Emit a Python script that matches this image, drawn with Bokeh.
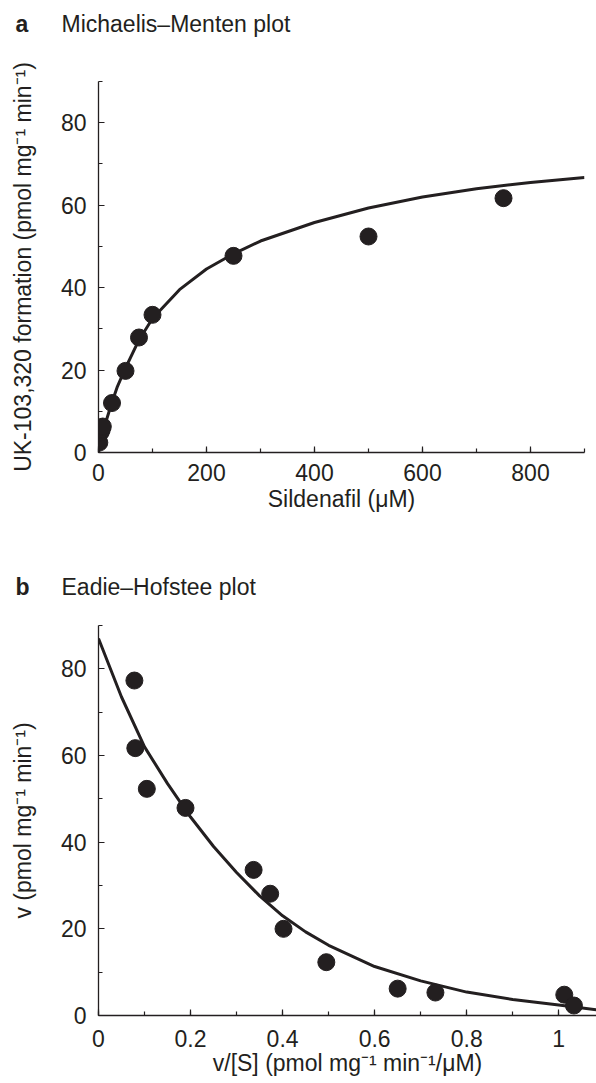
from bokeh.plotting import figure
from bokeh.models import Range1d, SingleIntervalTicker, CustomJSTickFormatter
from bokeh.layouts import column, row
from bokeh.embed import file_html
from bokeh.resources import INLINE
from bokeh.core.properties import value

# ---------------- data ----------------
# (a) Michaelis–Menten plot
mm_substrate = [1.5, 4, 6, 8, 25, 50, 75, 100, 250, 500, 750]          # Sildenafil (µM)
mm_rate = [2.4, 4.9, 5.5, 6.3, 12.0, 19.8, 27.9, 33.4, 47.7, 52.4, 61.7]  # pmol mg-1 min-1
mm_fit_s = [0, 5, 10, 15, 25, 35, 50, 75, 100, 150, 200, 250, 300, 400, 500, 600, 700, 800, 900]
mm_fit_v = [0, 2.8, 5.5, 8.0, 12.2, 16.0, 20.5, 27.3, 32.5, 39.5, 44.5, 48.2, 51.3, 55.8, 59.3, 62.0, 64.0, 65.5, 66.7]

# (b) Eadie–Hofstee plot
eh_ratio = [0.078, 0.080, 0.105, 0.189, 0.337, 0.373, 0.402, 0.495, 0.650, 0.732, 1.012, 1.033]
eh_rate = [77.3, 61.7, 52.3, 47.9, 33.6, 28.1, 20.0, 12.3, 6.2, 5.3, 4.8, 2.3]
eh_fit_x = [0, 0.05, 0.10, 0.15, 0.20, 0.25, 0.30, 0.35, 0.40, 0.45, 0.50, 0.60, 0.70, 0.80, 0.90, 1.00, 1.10]
eh_fit_v = [87, 73.5, 62.0, 53.5, 45.8, 39.0, 33.0, 27.6, 23.0, 19.3, 16.2, 11.3, 8.0, 5.4, 3.7, 2.4, 1.1]

# panel titles
panel_letters = ["a", "b"]
panel_titles = ["Michaelis–Menten plot", "Eadie–Hofstee plot"]

INK = "#231f20"
FONT = "Liberation Sans"
TICK_SIZE = "23px"
LABEL_SIZE = "23px"
TITLE_SIZE = "23px"
W = 596


def style_axes(p):
    for ax in (p.xaxis[0], p.yaxis[0]):
        ax.axis_line_color = INK
        ax.axis_line_width = 1.3
        ax.major_tick_line_color = INK
        ax.minor_tick_line_color = INK
        ax.major_tick_line_width = 1.2
        ax.minor_tick_line_width = 1.2
        ax.major_tick_in = 6
        ax.major_tick_out = 0
        ax.minor_tick_in = 4
        ax.minor_tick_out = 0
        ax.major_label_text_font = FONT
        ax.major_label_text_font_size = TICK_SIZE
        ax.major_label_text_color = INK
        ax.axis_label_text_font = FONT
        ax.axis_label_text_font_size = LABEL_SIZE
        ax.axis_label_text_font_style = "normal"
        ax.axis_label_text_color = INK
    p.xaxis.major_label_standoff = 11
    p.xaxis.axis_label_standoff = 2
    p.yaxis.major_label_standoff = 12
    p.yaxis.axis_label_standoff = 22
    p.grid.visible = False
    p.outline_line_color = None
    p.background_fill_color = "white"
    p.border_fill_color = "white"


def title_fig(height, baseline_from_top, letter, text):
    t = figure(width=W, height=height, x_range=Range1d(0, W), y_range=Range1d(0, height),
               output_backend="svg", toolbar_location=None,
               x_axis_location=None, y_axis_location=None,
               min_border_left=0, min_border_right=0, min_border_top=0, min_border_bottom=0)
    t.grid.visible = False
    t.outline_line_color = None
    t.border_fill_color = "white"
    yb = height - baseline_from_top
    t.text(x=[15], y=[yb], text=[letter], text_font=value(FONT), text_font_size=value(TITLE_SIZE),
           text_font_style="bold", text_color=INK, text_baseline="alphabetic", text_align="left")
    t.text(x=[61], y=[yb], text=[text], text_font=value(FONT), text_font_size=value(TITLE_SIZE),
           text_color=INK, text_baseline="alphabetic", text_align="left")
    return t


# ---------------- panel a ----------------
t1 = title_fig(50, 23.5, panel_letters[0], panel_titles[0])

p1 = figure(width=W, height=491, x_range=Range1d(0, 900), y_range=Range1d(0, 90),
            output_backend="svg", toolbar_location=None,
            min_border_left=98, min_border_right=12, min_border_top=31, min_border_bottom=89)
p1.xaxis.ticker = SingleIntervalTicker(interval=200, num_minor_ticks=2)
p1.yaxis.ticker = SingleIntervalTicker(interval=20, num_minor_ticks=2)
p1.xaxis.axis_label = "Sildenafil (μM)"
p1.yaxis.axis_label = "UK-103,320 formation (pmol mg⁻¹ min⁻¹)"
style_axes(p1)
p1.line(mm_fit_s, mm_fit_v, line_color=INK, line_width=3)
p1.scatter(mm_substrate, mm_rate, size=17, fill_color=INK, line_color=INK)

# ---------------- panel b ----------------
t2 = title_fig(70, 45.7, panel_letters[1], panel_titles[1])

p2 = figure(width=W, height=472, x_range=Range1d(0, 1.082), y_range=Range1d(0, 90),
            output_backend="svg", toolbar_location=None,
            min_border_left=98, min_border_right=0, min_border_top=14, min_border_bottom=68)
p2.xaxis.ticker = SingleIntervalTicker(interval=0.2, num_minor_ticks=2)
p2.yaxis.ticker = SingleIntervalTicker(interval=20, num_minor_ticks=2)
p2.xaxis.formatter = CustomJSTickFormatter(code="return String(Math.round(tick * 10) / 10);")
p2.xaxis.axis_label = "v/[S] (pmol mg⁻¹ min⁻¹/μM)"
p2.yaxis.axis_label = "v (pmol mg⁻¹ min⁻¹)"
style_axes(p2)
p2.xaxis.major_label_standoff = 14
p2.xaxis.axis_label_standoff = 0
p2.line(eh_fit_x, eh_fit_v, line_color=INK, line_width=3)
p2.scatter(eh_ratio, eh_rate, size=17, fill_color=INK, line_color=INK)

layout = column(row(t1), row(p1), row(t2), row(p2), spacing=0)
open("out.html", "w").write(file_html(layout, INLINE))
